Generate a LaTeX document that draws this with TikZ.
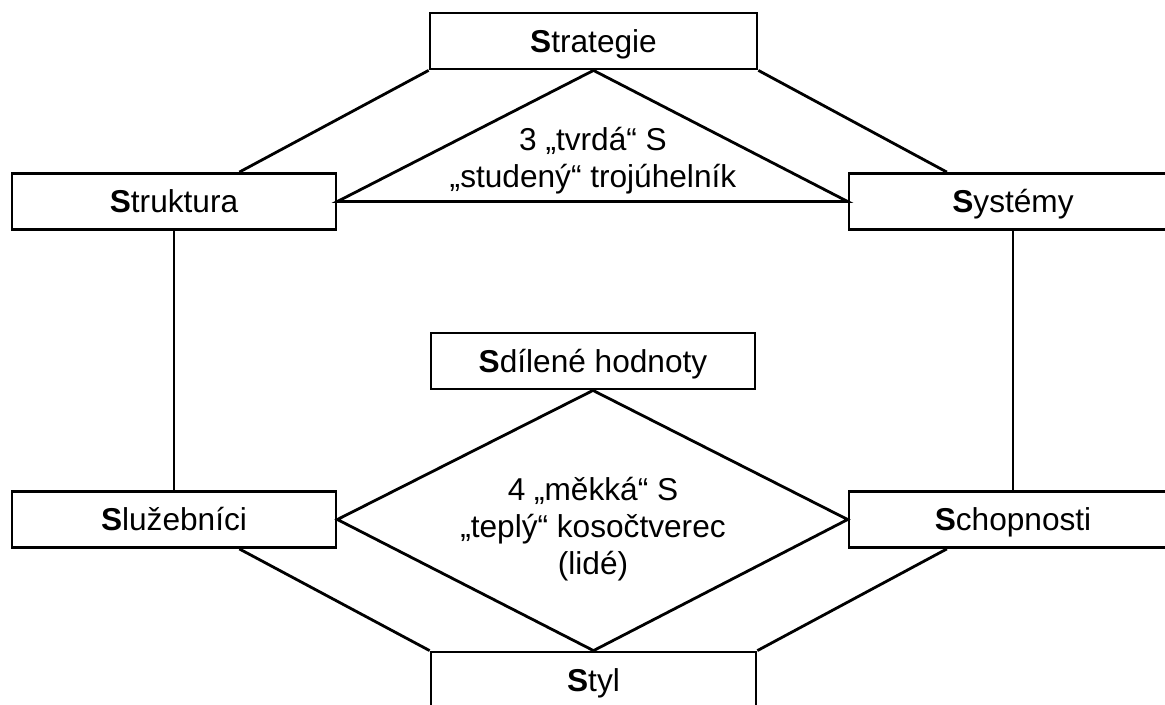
\documentclass[tikz,border=0pt]{standalone}
\usepackage{fontspec}
\setmainfont{Liberation Sans}
\usetikzlibrary{calc}

\begin{document}
\begin{tikzpicture}[x=0.02cm, y=-0.02cm, line width=1.6pt, font=\fontsize{18}{21}\selectfont,
  sbox/.style={draw, minimum width=6.54cm, minimum height=1.12cm, inner sep=0pt, text height=12.9pt, text depth=0pt},
  lbl/.style={align=center, inner sep=0pt}]
\clip (0,0) rectangle (1165,704);
% the seven S boxes
\node[sbox] (strat) at (593.5,41) {\textbf{S}trategie};
\node[sbox, minimum width=6.48cm] (strukt) at (174,201.5) {\textbf{S}truktura};
\node[sbox, minimum width=6.56cm] (syst) at (1013,201.5) {\textbf{S}ystémy};
\node[sbox, minimum width=6.48cm] (sdil) at (593,361) {\textbf{S}dílené hodnoty};
\node[sbox, minimum width=6.48cm] (sluz) at (174,519.5) {\textbf{S}lužebníci};
\node[sbox, minimum width=6.56cm] (schop) at (1013,519.5) {\textbf{S}chopnosti};
\node[sbox, minimum width=6.5cm] (styl) at (593.5,680) {\textbf{S}tyl};
% labels inside triangle and diamond
\node[lbl] (tvrda) at (593,161) {3 „tvrdá“ S\\„studený“ trojúhelník};
\node[lbl] (mekka) at (593,529) {4 „měkká“ S\\„teplý“ kosočtverec\\(lidé)};
% outer frame
\draw (strat.south west) -- ($(strukt.north)!0.4!(strukt.north east)$);
\draw (strat.south east) -- ($(syst.north)!0.4!(syst.north west)$);
\draw (strukt.south) -- (sluz.north);
\draw (syst.south) -- (schop.north);
\draw ($(sluz.south)!0.4!(sluz.south east)$) -- (styl.north west);
\draw ($(schop.south)!0.4!(schop.south west)$) -- (styl.north east);
% hard triangle
\draw (strat.south) -- (strukt.east) -- (syst.west) -- cycle;
% soft diamond
\draw (sdil.south) -- (sluz.east) -- (styl.north) -- (schop.west) -- cycle;
\end{tikzpicture}
\end{document}
